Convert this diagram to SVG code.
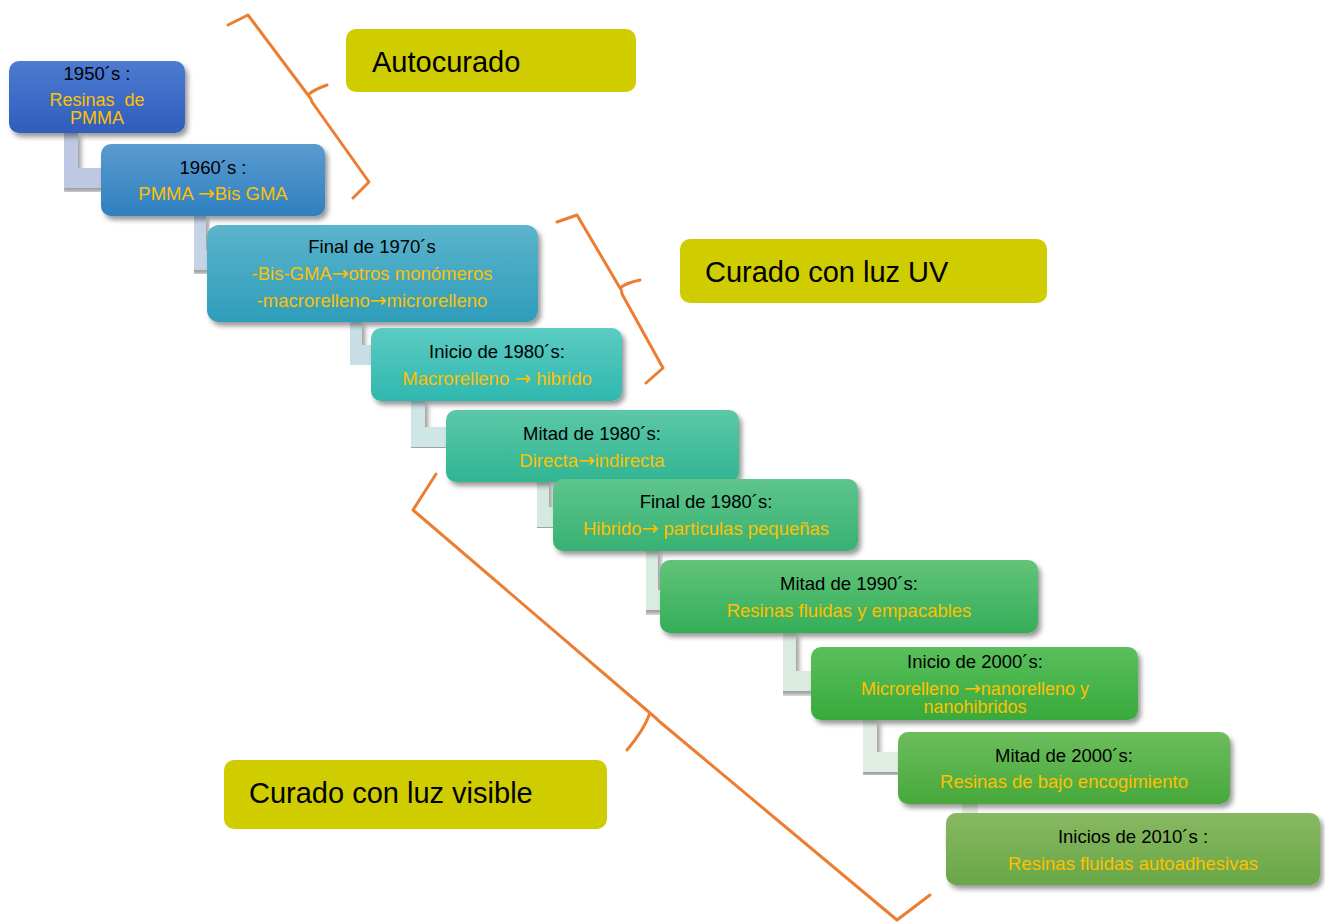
<svg xmlns="http://www.w3.org/2000/svg" width="1325" height="922" viewBox="0 0 1325 922">
<defs>
<filter id="sh" x="-10%" y="-20%" width="130%" height="150%">
<feDropShadow dx="3" dy="4" stdDeviation="2.5" flood-color="#000" flood-opacity="0.4"/>
</filter>
<linearGradient id="g1" x1="0" y1="0" x2="0" y2="1"><stop offset="0" stop-color="#4d7bd0"/><stop offset="1" stop-color="#2f5dbd"/></linearGradient>
<linearGradient id="g2" x1="0" y1="0" x2="0" y2="1"><stop offset="0" stop-color="#5a9bd0"/><stop offset="1" stop-color="#2f80c0"/></linearGradient>
<linearGradient id="g3" x1="0" y1="0" x2="0" y2="1"><stop offset="0" stop-color="#5cb4cc"/><stop offset="1" stop-color="#2e9dba"/></linearGradient>
<linearGradient id="g4" x1="0" y1="0" x2="0" y2="1"><stop offset="0" stop-color="#5ccbc3"/><stop offset="1" stop-color="#2fb8ae"/></linearGradient>
<linearGradient id="g5" x1="0" y1="0" x2="0" y2="1"><stop offset="0" stop-color="#5cc8a8"/><stop offset="1" stop-color="#30b592"/></linearGradient>
<linearGradient id="g6" x1="0" y1="0" x2="0" y2="1"><stop offset="0" stop-color="#5ec58c"/><stop offset="1" stop-color="#38b173"/></linearGradient>
<linearGradient id="g7" x1="0" y1="0" x2="0" y2="1"><stop offset="0" stop-color="#62c47a"/><stop offset="1" stop-color="#34ad58"/></linearGradient>
<linearGradient id="g8" x1="0" y1="0" x2="0" y2="1"><stop offset="0" stop-color="#5abf5c"/><stop offset="1" stop-color="#38aa3c"/></linearGradient>
<linearGradient id="g9" x1="0" y1="0" x2="0" y2="1"><stop offset="0" stop-color="#6cbd5c"/><stop offset="1" stop-color="#47a83b"/></linearGradient>
<linearGradient id="g10" x1="0" y1="0" x2="0" y2="1"><stop offset="0" stop-color="#88b862"/><stop offset="1" stop-color="#68a746"/></linearGradient>
</defs>
<style>
text{font-family:"Liberation Sans",Arial,sans-serif;}
.t{font-size:18.5px;fill:#000;text-anchor:middle;}
.b{font-size:18.5px;fill:#FFC000;text-anchor:middle;white-space:pre;}
.s{font-size:18px;}
.ar{font-family:"DejaVu Sans",sans-serif;font-size:20px;}
.box{filter:url(#sh);}
.con{fill:none;stroke-width:20;stroke-linejoin:miter;filter:url(#sh);}
.brace{fill:none;stroke:#ED7D31;stroke-width:3;stroke-linejoin:round;stroke-linecap:round;}
.lab{fill:#CFCC00;}
.lt{font-size:29px;fill:#000;}
</style>
<rect width="1325" height="922" fill="#fff"/>
<g id="connectors">
<path class="con" stroke="#bec8e3" d="M68,133 V178 H101"/>
<path class="con" stroke="#c4d4e6" d="M196,216 V260 H207"/>
<path class="con" stroke="#c9dde5" d="M352,322 V355 H371"/>
<path class="con" stroke="#cfe6e6" d="M415,401 V437 H446"/>
<path class="con" stroke="#d3e9e2" d="M539,482 V517 H553"/>
<path class="con" stroke="#d8ece2" d="M648,551 V600 H660"/>
<path class="con" stroke="#dcebe0" d="M786,633 V681 H811"/>
<path class="con" stroke="#e2eee3" d="M867,720 V762 H898"/>
<path class="con" stroke="#e2ede0" d="M972,804 V840 H946"/>
</g>
<g id="n1"><rect class="box" x="9" y="61" width="176" height="72" rx="10" fill="url(#g1)"/>
<text class="t" x="97" y="79.5">1950´s :</text><text class="b s" x="97" y="106">Resinas  de</text><text class="b s" x="97" y="124">PMMA</text></g>
<g id="n2"><rect class="box" x="101" y="144" width="224" height="72" rx="10" fill="url(#g2)"/>
<text class="t" x="213" y="173.5">1960´s :</text><text class="b" x="213" y="199.5">PMMA <tspan class="ar">→</tspan>Bis GMA</text></g>
<g id="n3"><rect class="box" x="207" y="225" width="331" height="97" rx="12" fill="url(#g3)"/>
<text class="t" x="372" y="252.5">Final de 1970´s</text><text class="b" x="372" y="279.5">-Bis-GMA<tspan class="ar">→</tspan>otros monómeros</text><text class="b" x="372" y="306.5">-macrorelleno<tspan class="ar">→</tspan>microrelleno</text></g>
<g id="n4"><rect class="box" x="371" y="328" width="251" height="73" rx="10" fill="url(#g4)"/>
<text class="t" x="497" y="357.5">Inicio de 1980´s:</text><text class="b" x="497" y="384.5">Macrorelleno <tspan class="ar">→</tspan> hibrido</text></g>
<g id="n5"><rect class="box" x="446" y="410" width="293" height="72" rx="10" fill="url(#g5)"/>
<text class="t" x="592" y="439.5">Mitad de 1980´s:</text><text class="b" x="592" y="466.5">Directa<tspan class="ar">→</tspan>indirecta</text></g>
<g id="n6"><rect class="box" x="553" y="479" width="305" height="72" rx="10" fill="url(#g6)"/>
<text class="t" x="706" y="507.5">Final de 1980´s:</text><text class="b" x="706" y="534.5">Hibrido<tspan class="ar">→</tspan> particulas pequeñas</text></g>
<g id="n7"><rect class="box" x="660" y="560" width="378" height="73" rx="10" fill="url(#g7)"/>
<text class="t" x="849" y="589.5">Mitad de 1990´s:</text><text class="b" x="849" y="616.5">Resinas fluidas y empacables</text></g>
<g id="n8"><rect class="box" x="811" y="647" width="327" height="73" rx="10" fill="url(#g8)"/>
<text class="t" x="975" y="667.5">Inicio de 2000´s:</text><text class="b s" x="975" y="694.5">Microrelleno <tspan class="ar">→</tspan>nanorelleno y</text><text class="b s" x="975" y="713">nanohibridos</text></g>
<g id="n9"><rect class="box" x="898" y="732" width="332" height="72" rx="10" fill="url(#g9)"/>
<text class="t" x="1064" y="761.5">Mitad de 2000´s:</text><text class="b" x="1064" y="787.5">Resinas de bajo encogimiento</text></g>
<g id="n10"><rect class="box" x="946" y="813" width="374" height="72" rx="10" fill="url(#g10)"/>
<text class="t" x="1133" y="842.5">Inicios de 2010´s :</text><text class="b" x="1133" y="869.5">Resinas fluidas autoadhesivas</text></g>
<g id="braces">
<path class="brace" d="M228,25 L248,15 L308,95 Q313,90 327,85 M308,95 Q311,98 312,102 L369,182 L353,198"/>
<path class="brace" d="M557,222 L577,215 L620,288 Q626,283 640,280 M620,288 Q622,290 622,294 L663,368 L646,383"/>
<path class="brace" d="M436,474 L413,510 L650,713 Q644,730 627,750 M650,713 Q655,717 660,722 L897,920 L930,895"/>
</g>
<g id="label-autocurado"><rect class="lab" x="346" y="29" width="290" height="63" rx="10"/><text class="lt" x="372" y="72">Autocurado</text></g>
<g id="label-uv"><rect class="lab" x="680" y="239" width="367" height="64" rx="10"/><text class="lt" x="705" y="282">Curado con luz UV</text></g>
<g id="label-visible"><rect class="lab" x="224" y="760" width="383" height="69" rx="10"/><text class="lt" x="249" y="803">Curado con luz visible</text></g>
</svg>
